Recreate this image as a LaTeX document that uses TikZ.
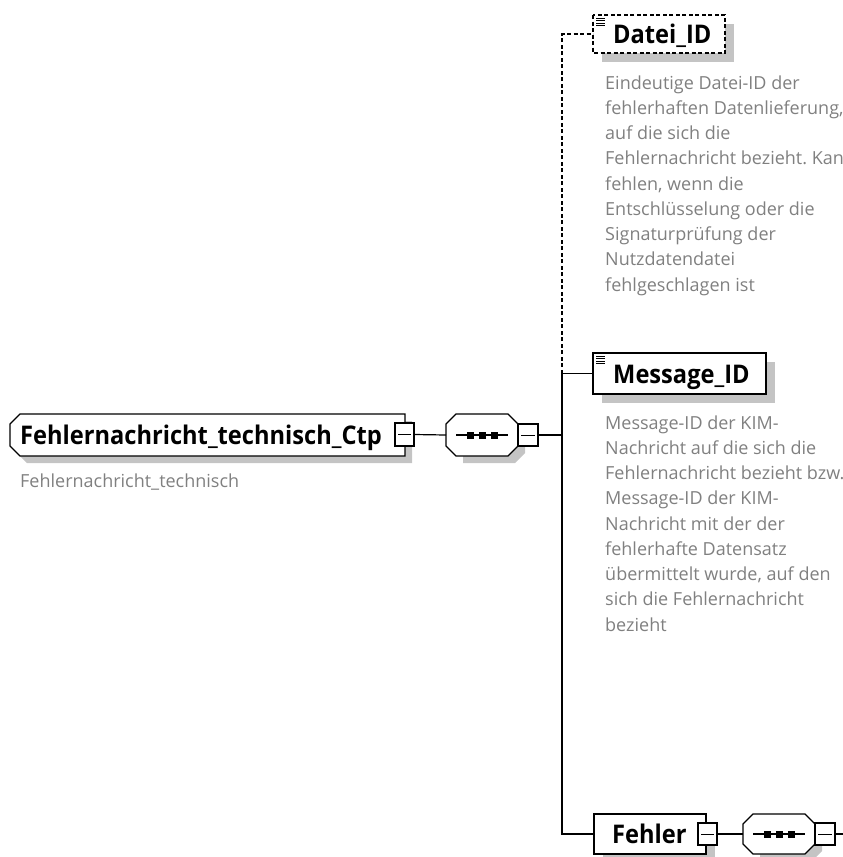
\documentclass[tikz,border=0pt]{standalone}
\usepackage{fontspec}
\setmainfont{Open Sans}
\newfontfamily\titlefont{Open Sans}[FakeStretch=0.92]
\usetikzlibrary{calc}
\definecolor{shade}{HTML}{C4C4C4}
\definecolor{anno}{HTML}{808080}
\tikzset{
  x=1pt,y=-1pt,
  frame/.style={draw=black,line width=1.2pt,fill=white},
  shadowbox/.style={fill=shade,draw=none},
  holder/.style={inner sep=0pt,outer sep=0pt,anchor=north west},
  conn/.style={draw=black,line width=1.2pt},
  dconn/.style={draw=black,line width=1.1pt,dash pattern=on 4pt off 2.5pt},
  title/.style={font=\titlefont\bfseries\fontsize{25.7}{28}\selectfont,inner sep=0pt,anchor=base west},
  annot/.style={font=\fontsize{18}{25.25}\selectfont\frenchspacing,text=anno,inner sep=0pt,anchor=base west,align=left},
  sq/.style={fill=black,draw=none,minimum size=7pt,inner sep=0pt}
}
\begin{document}
\begin{tikzpicture}
\useasboundingbox (0,0) rectangle (843,857);
% ---------- root node ----------
\node[holder,minimum width=395pt,minimum height=42pt] (root) at (10,414) {};
\fill[shadowbox] ($(root.north west)+(17,7)$) -- ($(root.north east)+(7,7)$) -- ($(root.south east)+(7,7)$) -- ($(root.south west)+(17,7)$) -- ($(root.south west)+(7,-3)$) -- ($(root.north west)+(7,17)$) -- cycle;
\draw[frame] ($(root.north west)+(10,0)$) -- (root.north east) -- (root.south east) -- ($(root.south west)+(10,0)$) -- ($(root.south west)+(0,-10)$) -- ($(root.north west)+(0,10)$) -- cycle;
\node[title] (roottxt) at (20,444) {Fehlernachricht\_technisch\_Ctp};
\node[holder,minimum width=19pt,minimum height=23pt,frame] (rexp) at (395,423) {};
\draw[line width=1pt] ($(rexp.west)+(3,0)$) -- ($(rexp.east)+(-3,0)$);
\node[annot] (rootanno) at (20,487) {Fehlernachricht\_technisch};
% ---------- sequence 1 ----------
\node[holder,minimum width=72pt,minimum height=42pt] (seq) at (446,414) {};
\fill[shadowbox] ($(seq.north west)+(17,7)$) -- ($(seq.north east)+(-3,7)$) -- ($(seq.north east)+(7,17)$) -- ($(seq.south east)+(7,-3)$) -- ($(seq.south east)+(-3,7)$) -- ($(seq.south west)+(17,7)$) -- cycle;
\draw[frame] ($(seq.north west)+(10,0)$) -- ($(seq.north east)+(-10,0)$) -- ($(seq.north east)+(0,10)$) -- ($(seq.south east)+(0,-10)$) -- ($(seq.south east)+(-10,0)$) -- ($(seq.south west)+(10,0)$) -- ($(seq.south west)+(0,-10)$) -- ($(seq.north west)+(0,10)$) -- cycle;
\draw[line width=1.2pt] ($(seq.west)+(10,0)$) -- ($(seq.east)+(-10,0)$);
\node[sq] (s1a) at (470,435) {};
\node[sq] (s1b) at (482,435) {};
\node[sq] (s1c) at (494,435) {};
\node[holder,minimum width=20pt,minimum height=22pt,frame] (sexp) at (518,424) {};
\draw[line width=1pt] ($(sexp.west)+(3,0)$) -- ($(sexp.east)+(-3,0)$);
\draw[conn] (rexp.east) -- (seq.west);
\coordinate (jn) at (562,435);
\draw[conn] (sexp.east) -- (jn);
% ---------- Datei_ID ----------
\node[holder,minimum width=132pt,minimum height=38pt] (datei) at (593,15) {};
\fill[shadowbox] ($(datei.north west)+(9,9)$) rectangle ($(datei.south east)+(9,9)$);
\draw[fill=white,line width=1.2pt,dash pattern=on 4pt off 2.5pt] (datei.north west) rectangle (datei.south east);
\foreach \k in {0,1,2,3} {\draw[line width=0.9pt] ($(datei.north west)+(3,3+2.5*\k)$) -- ++(9,0);}
\node[title] (dateitxt) at (613,43) {Datei\_ID};
\node[annot] (dateianno) at (605,291) {Eindeutige Datei-ID der\\fehlerhaften Datenlieferung,\\auf die sich die\\Fehlernachricht bezieht. Kan\\fehlen, wenn die\\Entschlüsselung oder die\\Signaturprüfung der\\Nutzdatendatei\\fehlgeschlagen ist};
% ---------- Message_ID ----------
\node[holder,minimum width=173pt,minimum height=41pt] (msg) at (593,353) {};
\fill[shadowbox] ($(msg.north west)+(9,9)$) rectangle ($(msg.south east)+(9,9)$);
\draw[frame] (msg.north west) rectangle (msg.south east);
\foreach \k in {0,1,2,3} {\draw[line width=0.9pt] ($(msg.north west)+(3,3+2.5*\k)$) -- ++(9,0);}
\node[title] (msgtxt) at (613,383) {Message\_ID};
\node[annot] (msganno) at (605,631) {Message-ID der KIM-\\Nachricht auf die sich die\\Fehlernachricht bezieht bzw.\\Message-ID der KIM-\\Nachricht mit der der\\fehlerhafte Datensatz\\übermittelt wurde, auf den\\sich die Fehlernachricht\\bezieht};
% ---------- Fehler ----------
\node[holder,minimum width=112pt,minimum height=40pt] (fehler) at (594,814) {};
\fill[shadowbox] ($(fehler.north west)+(9,9)$) rectangle ($(fehler.south east)+(9,9)$);
\draw[frame] (fehler.north west) rectangle (fehler.south east);
\node[title] (fehlertxt) at (612,843) {Fehler};
\node[holder,minimum width=19pt,minimum height=22pt,frame] (fexp) at (698,823) {};
\draw[line width=1pt] ($(fexp.west)+(3,0)$) -- ($(fexp.east)+(-3,0)$);
\node[holder,minimum width=72pt,minimum height=40pt] (seq2) at (743,814) {};
\fill[shadowbox] ($(seq2.north west)+(17,7)$) -- ($(seq2.north east)+(-3,7)$) -- ($(seq2.north east)+(7,17)$) -- ($(seq2.south east)+(7,-3)$) -- ($(seq2.south east)+(-3,7)$) -- ($(seq2.south west)+(17,7)$) -- cycle;
\draw[frame] ($(seq2.north west)+(10,0)$) -- ($(seq2.north east)+(-10,0)$) -- ($(seq2.north east)+(0,10)$) -- ($(seq2.south east)+(0,-10)$) -- ($(seq2.south east)+(-10,0)$) -- ($(seq2.south west)+(10,0)$) -- ($(seq2.south west)+(0,-10)$) -- ($(seq2.north west)+(0,10)$) -- cycle;
\draw[line width=1.2pt] ($(seq2.west)+(10,0)$) -- ($(seq2.east)+(-10,0)$);
\node[sq] (s2a) at (767,834) {};
\node[sq] (s2b) at (779,834) {};
\node[sq] (s2c) at (791,834) {};
\node[holder,minimum width=20pt,minimum height=22pt,frame] (s2exp) at (815,823) {};
\draw[line width=1pt] ($(s2exp.west)+(3,0)$) -- ($(s2exp.east)+(-3,0)$);
\coordinate (endpt) at (843,834);
\draw[conn] (fexp.east) -- (seq2.west);
\draw[conn] (s2exp.east) -- (endpt);
% ---------- tree connectors ----------
\draw[conn] (jn |- msg.west) -- (msg.west);
\draw[conn] (jn |- msg.west) -- (jn |- fehler.west) -- (fehler.west);
\draw[dconn] (jn |- msg.west) -- (jn |- datei.west) -- (datei.west);
\end{tikzpicture}
\end{document}
